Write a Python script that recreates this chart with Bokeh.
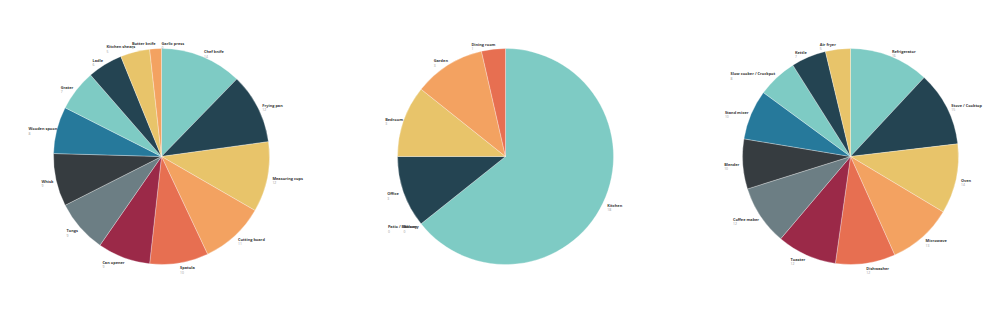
import math
from bokeh.plotting import figure
from bokeh.models import Range1d, ColumnDataSource
from bokeh.embed import file_html
from bokeh.resources import INLINE
from bokeh.core.properties import value

# ---- data ----
tool_names = ["Chef knife", "Frying pan", "Measuring cups", "Cutting board", "Spatula",
              "Can opener", "Tongs", "Whisk", "Wooden spoon", "Grater", "Ladle",
              "Kitchen shears", "Butter knife", "Garlic press"]
tool_values = [14, 12, 12, 11, 10, 9, 9, 9, 8, 7, 6, 5, 2, 0]

room_names = ["Kitchen", "Patio / Balcony", "Balcony", "Office", "Bedroom", "Garden", "Dining room"]
room_values = [18, 0, 0, 3, 3, 3, 1]

appliance_names = ["Refrigerator", "Stove / Cooktop", "Oven", "Microwave", "Dishwasher",
                   "Toaster", "Coffee maker", "Blender", "Stand mixer",
                   "Slow cooker / Crockpot", "Kettle", "Air fryer"]
appliance_values = [16, 15, 14, 13, 12, 12, 12, 10, 10, 8, 7, 5]

palette = ["#7ECBC4", "#244452", "#E8C46A", "#F3A261", "#E76F51",
           "#9B2948", "#6C7E84", "#363C40", "#26799B"]

# ---- layout constants ----
W, H = 1000, 312
R = 108
LABEL_R = 113
CENTERS = [(161, 156), (505, 156), (850, 156)]
NAME_FS = 3.9
VAL_FS = 3.4
CHAR_W = 1.95

p = figure(width=W, height=H, x_range=Range1d(0, W), y_range=Range1d(0, H),
           output_backend="svg", toolbar_location=None,
           x_axis_location=None, y_axis_location=None, min_border=0)
p.grid.visible = False
p.outline_line_color = None
p.background_fill_color = "white"


def draw_pie(names, vals, cx, cy):
    total = float(sum(vals))
    starts, ends, colors, xs, ys = [], [], [], [], []
    lx, ly, ltxt, vx, vy, vtxt = [], [], [], [], [], []
    cum = 0.0
    ci = 0
    for n, v in zip(names, vals):
        a0 = 2 * math.pi * cum / total
        cum += v
        a1 = 2 * math.pi * cum / total
        if v > 0:
            starts.append(math.pi / 2 - a0)
            ends.append(math.pi / 2 - a1)
            colors.append(palette[ci % len(palette)])
            ci += 1
            xs.append(cx)
            ys.append(cy)
        mid = (a0 + a1) / 2
        ax = cx + LABEL_R * math.sin(mid)
        ay = cy + LABEL_R * math.cos(mid)
        if math.sin(mid) < -1e-6:
            x0 = ax - len(n) * CHAR_W
        else:
            x0 = ax
        lx.append(x0)
        ly.append(ay)
        ltxt.append(n)
        vx.append(x0)
        vy.append(ay - 4.3)
        vtxt.append(str(v))
    src = ColumnDataSource(dict(x=xs, y=ys, s=starts, e=ends, c=colors))
    p.wedge(x="x", y="y", radius=R, start_angle="s", end_angle="e", direction="clock",
            fill_color="c", line_color="white", line_width=0.3, source=src)
    p.text(x=lx, y=ly, text=ltxt, text_font=value("Open Sans"), text_font_size=f"{NAME_FS}px",
           text_font_style="bold", text_color="#3a3a3a", text_align="left", text_baseline="middle")
    p.text(x=vx, y=vy, text=vtxt, text_font=value("Open Sans"), text_font_size=f"{VAL_FS}px",
           text_color="#999999", text_align="left", text_baseline="middle")


draw_pie(tool_names, tool_values, *CENTERS[0])
draw_pie(room_names, room_values, *CENTERS[1])
draw_pie(appliance_names, appliance_values, *CENTERS[2])

open("out.html", "w").write(file_html(p, INLINE))
